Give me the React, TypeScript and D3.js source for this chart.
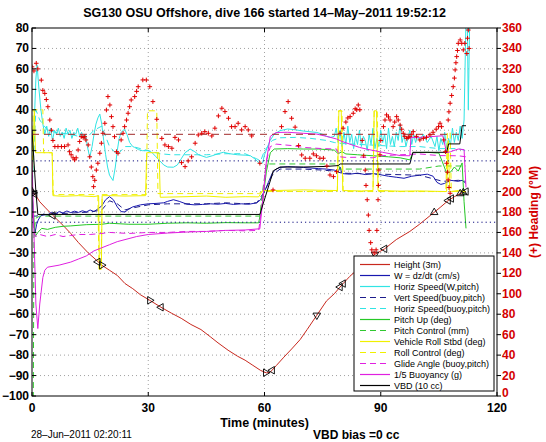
import React from 'react';
import * as d3 from 'd3';

type P = [number, number];

const titleText = 'SG130 OSU Offshore, dive 166 started 14\u2013May\u20132011 19:52:12';
const xLabel = 'Time (minutes)';
const yRightLabel = '(+) Heading (\u00B0M)';
const dateText = '28\u2013Jun\u20132011 02:20:11';
const vbdText = 'VBD bias =0 cc';

const xTicks = [0, 30, 60, 90, 120];
const yTicks = [-100, -90, -80, -70, -60, -50, -40, -30, -20, -10, 0, 10, 20, 30, 40, 50, 60, 70, 80];
const yRightTicks = [0, 20, 40, 60, 80, 100, 120, 140, 160, 180, 200, 220, 240, 260, 280, 300, 320, 340, 360];

const heightData: P[] = [[0,0],[1,-2],[2,-5],[3.5,-8],[5.4,-11.7],[8,-16.5],[10,-20.5],[12,-25],[14.5,-30],[16,-32.5],[18,-36],[20,-38.5],[22,-41],[24,-45],[26,-47.5],[28,-50.5],[30.4,-53.2],[33.3,-56.6],[36,-59.5],[38.5,-62],[41,-65],[43.6,-67.5],[46,-71],[48,-74],[50.6,-77.6],[53,-80.5],[55,-82.5],[57,-85],[59,-87.5],[60.5,-88.7],[61.5,-88.3],[63.1,-85],[65,-81],[67,-77],[69.2,-72.4],[71,-67.5],[73.5,-60.5],[76,-53.5],[78,-50],[79.5,-46.7],[80.3,-45],[82,-41.5],[83.8,-38.5],[86,-34.5],[88.5,-30.7],[91,-28],[94,-23.5],[97.5,-19.5],[100,-16],[103.5,-10.6],[105.5,-7.5],[107.4,-4.4],[109,-2.5],[110.5,-1],[112,0]];

const heightMarkers: [number, number, string][] = [[0,0,'u'],[0.3,-0.6,'r'],[0.7,-1.2,'l'],[5.4,-11.7,'l'],[17,-34.4,'l'],[18,-36,'r'],[30.4,-53.2,'r'],[33.3,-56.6,'l'],[60.3,-88.6,'r'],[62,-87.4,'l'],[73.5,-60.5,'d'],[79.5,-46.7,'l'],[80.3,-45,'l'],[88.5,-30.7,'d'],[91,-28,'l'],[103.8,-10.2,'u'],[107.4,-4.4,'l'],[108.2,-3.4,'l'],[110.5,-1,'u'],[111.3,-0.5,'u'],[112,0,'l']];

const wData: P[] = [[0,0],[0.4,-15],[0.8,-20],[1.2,-16],[1.6,-14],[2.2,-12],[3,-11],[4,-11.5],[5,-10.2],[6,-11],[7,-9.8],[8,-10.5],[9,-9.5],[10,-10.3],[11,-9.6],[12,-10.2],[13,-9.4],[14,-10],[15,-9],[16,-9.8],[17,-8.5],[18,-7],[19,-4],[20,-2.5],[21,-4],[22,-7.5],[23,-9.8],[24,-10],[25,-8.5],[26,-7.5],[27,-7],[28,-6.5],[30,-6],[32,-5.8],[34,-5.5],[35,-4.8],[36.5,-4],[38,-4.8],[40,-6.2],[42,-6.5],[44,-6.3],[46,-6],[48,-6.2],[50,-5.8],[52,-6.3],[54,-6],[56,-6.2],[58,-5.5],[59,-4],[60,0],[61,4.5],[62,9],[63,11],[64,11.8],[66,12.2],[68,12],[70,11.8],[72,11.5],[74,11.2],[76,11],[78,10.5],[79,9.5],[79.5,12],[80,8.8],[82,8.5],[84,9],[86,8.3],[88,8.8],[90,8.2],[92,7.5],[94,7],[96,6.5],[98,7.5],[100,8],[102,8.5],[103.5,7.5],[104.5,4.5],[105.5,3.5],[106.5,4],[108,5.5],[110,5],[111,5.5],[112,4]];

const horizSpeedData: P[] = [[0,0],[0.5,30],[1,55],[1.3,62],[1.8,50],[2.3,40],[2.8,33],[3.3,28],[3.8,32],[4.3,27],[4.8,31],[5.3,25],[5.8,30],[6.3,28],[6.8,31],[7.3,27],[7.8,29],[8.3,26],[8.8,31],[9.3,28],[9.8,30],[10.3,26],[10.8,29],[11.3,28],[11.8,31],[12.3,27],[12.8,29],[13.3,26],[13.8,28],[14.3,22],[14.9,16.7],[15.5,22],[16,28],[16.5,33],[17,36],[17.5,37.9],[18,33],[18.5,25],[19,18],[19.5,12],[20,8],[20.9,5.4],[21.5,12],[22,20],[22.5,26],[23,29],[23.9,30.6],[24.5,28],[25.2,24],[26,22],[26.5,21.6],[27.5,20.5],[28.5,20],[30,20],[31,19],[32,17],[33,15],[34,13],[35,12],[36.5,11.9],[37.5,13],[38.5,16],[39.5,19],[40.8,20.8],[42,19.5],[43,18],[45,16.7],[46.5,17.5],[48,18.5],[49.4,19.2],[51,18.5],[53,18],[55,17.8],[56.3,17.6],[57.5,16],[58.8,13.6],[59.5,14],[60,18],[61.4,24.9],[62.5,28],[64,29.8],[66,30.6],[68,30.2],[70,29.6],[72,29.2],[73.5,28.9],[75,28],[76,27],[77,26.5],[78,27],[78.5,31],[79,24],[79.5,30],[80,22],[80.5,29],[81,23],[81.5,32],[82,24],[82.5,28],[83,21],[83.5,27],[84,23],[84.5,30],[85,22],[85.5,27],[86,25],[86.5,20],[87,28],[87.5,23],[88,31],[88.5,21],[89,26],[89.5,22],[90,30],[90.5,24],[91,28],[91.5,21],[92,31],[92.5,23],[93,27],[93.5,22],[94,29],[94.5,25],[95,33],[95.5,24],[96,28],[96.5,22],[97,26],[97.5,30],[98,23],[98.5,28],[99,24],[99.5,27],[100,25],[101,28],[102,24],[103,27],[104,22],[104.5,27],[105,20],[105.5,26],[106,23],[106.5,29],[107,21],[107.5,26],[108,23],[108.5,31],[109,24],[109.5,29],[110,25],[110.5,32],[111,26],[111.5,35],[112,85],[112.3,90],[112.6,40],[113,90]];

const vertSpeedBuoyData: P[] = [[0,-12],[1,-12],[5,-11],[10,-10.5],[15,-10],[18,-9],[20,-4.5],[22,-6],[24,-9],[26,-8],[30,-6.5],[35,-6],[40,-6],[45,-6],[50,-5.5],[55,-6],[58,-5.5],[60,0],[62,8],[64,11],[70,11],[75,10.5],[78,10],[80,9],[90,8.5],[100,8],[104,6],[106,5],[110,5.5],[112,5]];

const horizSpeedBuoyData: P[] = [[0,0],[1,40],[2,35],[4,30],[6,29],[10,28],[14,26],[16,30],[18,32],[20,22],[22,18],[24,22],[26,22],[28,21],[30,20],[33,18.5],[36,18],[40,18],[45,18],[50,18.5],[55,18.5],[58,16],[59,15],[60,20],[62,25],[64,26.3],[68,26.5],[72,26],[76,25],[78,24],[80,23.5],[85,23],[90,22.5],[95,22],[100,22],[105,21],[110,21],[112,20]];

const pitchUpData: P[] = [[0,0],[0.4,-10],[0.8,-22],[1.5,-20],[2.5,-18],[4,-18.5],[6,-17.5],[8,-17],[10,-16.8],[14,-16.2],[18,-16],[20,-15.5],[25,-16],[30,-16],[35,-15.5],[40,-15.3],[45,-15.5],[50,-15.2],[55,-15.3],[58.5,-15.3],[59.5,-5],[60.5,10],[61.5,19],[62.5,20.8],[66,21],[70,20.8],[74,20.8],[78,20.3],[79,18.5],[80,19.5],[81,18.4],[84,18],[88,17.5],[92,17],[95,16.5],[97.5,15.5],[98.3,19],[102,19.2],[105,18.8],[106,14],[107,9],[108,9.5],[109,12],[110,10],[111,14],[111.5,-5],[112,-18]];

const pitchControlData: P[] = [[0,-120],[0.3,-120],[0.5,-20],[1,-13],[2,-12],[5,-12],[30,-12],[58.8,-12],[59.5,0],[60.5,13.5],[79,13.5],[79.5,11],[100,11],[105,12.5],[112,12.5]];

const rollData: P[] = [[0,0],[0.3,20],[0.6,39.5],[0.9,19],[5.2,19],[5.4,-2],[8,-2.3],[12,-2],[16,-2.5],[17.2,-2],[17.4,-38],[17.9,-38],[18.1,-2],[20,-2],[24,-2.2],[29.3,-2],[29.6,19],[32.8,19],[33.1,-2.8],[40,-2.5],[45,-2.2],[50,-2.8],[55,-2.5],[58.5,-2.6],[59.5,0.5],[62,0.5],[70,0.8],[78.8,0.5],[79.2,39.5],[79.8,39.5],[80.2,0.5],[85,0.3],[88,0.5],[88.3,39.5],[88.9,39.5],[89.3,0.5],[95,0.2],[100,0.3],[107,0],[107.4,25],[107.8,0],[110,0.5],[112,0]];

const rollControlData: P[] = [[0,0],[0.3,40],[2.8,40],[3,19],[5.2,19],[5.5,-1.5],[17,-1.5],[17.3,-38],[17.8,-38],[18.1,-1.5],[29.5,-1.5],[29.8,39.5],[32.2,39.5],[32.5,-1],[58.5,-1],[59.5,0],[78.8,0],[79.1,39.5],[80,39.5],[80.3,0],[88,0],[88.3,39.5],[89.1,39.5],[89.4,0],[106.8,0],[107.2,29],[107.9,29],[108.2,0],[112,0]];

const glideAngleData: P[] = [[0,-10],[0.5,-20],[1,-22],[2,-21],[4,-22],[6,-21],[8,-22],[10,-21.5],[12,-21],[15,-21],[18,-20.5],[20,-20],[25,-20.5],[30,-20],[35,-20],[40,-19.5],[45,-19.5],[50,-19],[55,-19.2],[58.5,-19],[59.5,-5],[60.5,15],[61.5,22],[63,23.2],[67,22.5],[70,21.6],[75,21],[78.6,20.8],[79.5,17],[81,16.7],[85,16.8],[88,16.5],[90,17.5],[95,18],[100,18.4],[105,17.6],[110,17.5],[112,17]];

const buoyancyData: P[] = [[0,15],[0.5,-20],[1,-55],[1.5,-67],[2,-55],[2.8,-42],[3.3,-38.5],[4,-37],[7,-36],[10,-34.5],[12,-33],[14,-31.5],[16,-29],[18,-27.5],[20,-26],[22,-24.5],[24,-23.5],[27,-22],[30,-21],[35,-20.3],[40,-19.8],[45,-19.5],[50,-19],[55,-18.8],[58.8,-18.2],[59.5,-5],[60.5,15],[61.5,27],[63,28.9],[66,29],[70,28.5],[73.5,28.1],[76,27],[78.6,25.7],[80,24.5],[84.5,21.6],[87,20.5],[90.5,19.2],[93,18.3],[95,17.6],[97.5,17.5],[97.8,26.5],[100,26.5],[104,27],[106,27.3],[107,19],[108,19.5],[110,20.8],[111.5,20.5],[112,2]];

const vbdData: P[] = [[0,30],[0.5,15],[1,0],[1.5,-11.2],[58.8,-11.2],[62.3,10.2],[64,12],[70,12],[76,12.3],[79,12.7],[79.5,13.5],[97.5,13.5],[98.3,19.2],[107,19.2],[107.5,23.3],[110.4,23.3],[111,32.2],[112,32.2]];

const wTargets = [15, -15];
const targetHeading = 256;
const headingSpan: P = [0, 112];

const headingData: P[] = [[0,322],[0.5,318],[1.1,325.5],[1.5,320],[2.4,309],[2.8,299],[3.3,296],[3.7,290],[4.1,283],[4.6,270],[5.0,260],[5.4,250],[5.9,244],[6.7,244],[7.6,244],[8.4,244],[9.3,245.6],[9.7,239],[10.1,236],[10.6,233],[11,231],[11.4,233],[11.9,240.7],[12.3,249],[12.7,253.7],[13.2,253],[13.6,253.7],[13.9,250.5],[14.5,245.6],[14.9,234],[15.3,224],[15.7,214.6],[15.9,204.8],[16.2,211],[16.6,221],[17,227.7],[17.5,237.5],[17.9,247.3],[18.3,257],[18.8,266.8],[19.2,279.8],[19.6,292.9],[20.1,284.7],[20.5,273.3],[20.9,263.5],[21.3,253.7],[21.8,239],[22.2,237.5],[23,250.5],[23.5,257],[23.9,263.5],[24.4,270],[24.8,276.6],[25.2,283],[25.6,289.6],[26.5,292.9],[27,298],[27.4,302.6],[28.6,309.2],[29.5,309.2],[30.4,302.6],[31.2,288],[32.2,270.7],[33.5,252],[34.3,245.6],[35.2,244],[36.1,242.4],[36.9,253],[37.8,250.5],[38.6,228.3],[39.5,224.4],[40.3,230],[41.2,234],[42.1,247.3],[42.9,255.4],[43.8,257],[44.6,258.6],[45.5,257],[46.4,254.4],[47.2,262],[48.1,274],[49,281.5],[49.8,278.2],[50.7,271.7],[51.5,263.5],[52.4,263.5],[53.2,266.8],[54.1,260.3],[55,263.5],[55.8,260.3],[56.7,254.4],[58.8,227.7],[62.2,201.6],[64.4,263.5],[65.3,278.2],[66.1,288],[67,271.7],[67.9,263],[68.8,245],[69.6,235.8],[70.5,232.6],[71.7,232.6],[72.6,236.8],[73.4,235],[74.3,232.6],[75.2,232.6],[76.1,225],[76.9,216.2],[77.8,214.6],[78.6,219.5],[79.5,257],[80.3,262],[81,268],[81.5,272],[82.1,273.3],[82.9,276.6],[83.4,281],[83.8,280],[84.2,284.7],[84.6,280],[85.2,250],[85.6,235],[86,221],[86.2,206],[86.5,192],[86.8,177],[87,162],[87.4,150],[87.7,143],[88.3,140],[88.8,143],[89,162],[89.3,192],[89.4,206],[89.5,221],[89.8,236],[90,250],[90.7,263.5],[91.1,270],[91.5,275],[92,273],[92.4,270],[93.2,263.5],[93.6,268],[94.1,273.3],[94.5,270],[95,265],[95.4,261],[95.8,257],[96.2,254],[96.7,252],[97.1,253],[97.5,253.7],[98,256],[98.4,258.6],[99.2,254],[100.1,250.5],[101,252],[101.8,253],[102.7,255.4],[103.5,258],[104.3,261],[104.9,263.5],[105.3,266.8],[105.7,263.5],[106.3,250.5],[106.7,239],[107,227.7],[107.2,219],[107.4,211.4],[107.6,204],[107.9,198.3],[107.4,270],[107.6,278],[107.9,286.4],[108.3,294],[108.7,302.6],[109,311],[109.2,319],[109.4,326],[109.6,332],[109.8,338],[110,345],[110.5,348.3],[110.9,345],[111.3,338.6],[111.7,345],[112.2,335],[112.4,350],[112.6,358],[112.8,340]];

const seriesLabels = ['Height (3m)', 'W = dz/dt (cm/s)', 'Horiz Speed(W,pitch)', 'Vert Speed(buoy,pitch)', 'Horiz Speed(buoy,pitch)', 'Pitch Up (deg)', 'Pitch Control (mm)', 'Vehicle Roll Stbd (deg)', 'Roll Control (deg)', 'Glide Angle (buoy,pitch)', '1/5 Buoyancy (g)', 'VBD (10 cc)'];

const seriesStyle = [
  { color: '#c8281e', dash: '' },
  { color: '#1818b0', dash: '' },
  { color: '#30e4e4', dash: '' },
  { color: '#1c1c8c', dash: '6,4' },
  { color: '#30e4e4', dash: '6,4' },
  { color: '#26c826', dash: '' },
  { color: '#30c830', dash: '6,4' },
  { color: '#f0f000', dash: '' },
  { color: '#f0f000', dash: '6,4' },
  { color: '#e020e0', dash: '6,4' },
  { color: '#e020e0', dash: '' },
  { color: '#000000', dash: '' },
];

const seriesData = [heightData, wData, horizSpeedData, vertSpeedBuoyData, horizSpeedBuoyData, pitchUpData, pitchControlData, rollData, rollControlData, glideAngleData, buoyancyData, vbdData];

const L = 32, R = 497, T = 28, B = 396;
const x = d3.scaleLinear().domain([0, 120]).range([L, R]);
const y = d3.scaleLinear().domain([-100, 80]).range([B, T]);
const yR = d3.scaleLinear().domain([0, 360]).range([B, T]);
const FONT = "'Liberation Sans', Arial, Helvetica, sans-serif";
const RED = '#d40000';

export default function App() {
  const line = d3.line<P>().x(d => x(d[0])).y(d => y(d[1]));
  const tri = d3.symbol().type(d3.symbolTriangle).size(24)() as string;
  const rot: Record<string, number> = { u: 0, r: 90, d: 180, l: 270 };
  const legendX = 354, legendY = 256, legendW = 140, legendH = 135;
  return (
    <svg width={546} height={442} style={{ position: 'absolute', left: 0, top: 0 }} fontFamily={FONT}>
      <defs>
        <clipPath id="plotclip"><rect x={L} y={T} width={R - L} height={B - T} /></clipPath>
      </defs>
      <rect x={0} y={0} width={546} height={442} fill="#fff" />
      <rect x={L} y={T} width={R - L} height={B - T} fill="#fff" />
      <g stroke="#8a8a8a" strokeWidth={0.8} strokeDasharray="1,3">
        {yTicks.filter(v => v > -100 && v < 80).map(v => (
          <line key={'gy' + v} x1={L} x2={R} y1={y(v)} y2={y(v)} />
        ))}
        {xTicks.filter(v => v > 0 && v < 120).map(v => (
          <line key={'gx' + v} x1={x(v)} x2={x(v)} y1={T} y2={B} />
        ))}
      </g>
      <g clipPath="url(#plotclip)" fill="none">
        {seriesData.map((d, i) => (
          <path key={'s' + i} d={line(d) as string} stroke={seriesStyle[i].color} strokeWidth={1} strokeDasharray={seriesStyle[i].dash || undefined} />
        ))}
        {heightMarkers.map((m, i) => (
          <path key={'m' + i} d={tri} transform={`translate(${x(m[0])},${y(m[1])}) rotate(${rot[m[2]]})`} stroke="#000" strokeWidth={0.9} fill="none" />
        ))}
        {wTargets.map(v => (
          <line key={'wt' + v} x1={L} x2={R} y1={y(v)} y2={y(v)} stroke="#101080" strokeWidth={1} strokeDasharray="1.2,3" />
        ))}
        <line x1={x(headingSpan[0])} x2={x(headingSpan[1])} y1={yR(targetHeading)} y2={yR(targetHeading)} stroke="#a02828" strokeWidth={1} strokeDasharray="7,5" />
        {headingData.map((d, i) => (
          <path key={'h' + i} d="M-2.3,0H2.3M0,-2.3V2.3" transform={`translate(${x(d[0])},${yR(d[1])})`} stroke="#e00000" strokeWidth={1} />
        ))}
      </g>
      <rect x={L} y={T} width={R - L} height={B - T} fill="none" stroke="#000" strokeWidth={1} />
      <g stroke="#000" strokeWidth={1}>
        {yTicks.map(v => (
          <line key={'ty' + v} x1={L} x2={L + 4} y1={y(v)} y2={y(v)} />
        ))}
        {xTicks.map(v => (
          <g key={'tx' + v}>
            <line x1={x(v)} x2={x(v)} y1={B} y2={B - 4} />
            <line x1={x(v)} x2={x(v)} y1={T} y2={T + 4} />
          </g>
        ))}
        {yRightTicks.map(v => (
          <line key={'tr' + v} x1={R} x2={R + 4} y1={yR(v)} y2={yR(v)} />
        ))}
      </g>
      <g fontSize={12} fontWeight="bold" fill="#000">
        {yTicks.map(v => (
          <text key={'ly' + v} x={L - 3} y={y(v) + 4} textAnchor="end">{v < 0 ? '\u2212' + Math.abs(v) : v}</text>
        ))}
        {xTicks.map(v => (
          <text key={'lx' + v} x={x(v)} y={412} textAnchor="middle">{v}</text>
        ))}
      </g>
      <g fontSize={12} fontWeight="bold" fill={RED}>
        {yRightTicks.map(v => (
          <text key={'lr' + v} x={R + 5} y={yR(v) + (v === 0 ? 1 : 4)} textAnchor="start">{v}</text>
        ))}
        <text transform={`translate(538,${(T + B) / 2}) rotate(-90)`} textAnchor="middle">{yRightLabel}</text>
      </g>
      <text x={(L + R) / 2} y={17} textAnchor="middle" fontSize={12.5} fontWeight="bold">{titleText}</text>
      <text x={(L + R) / 2} y={427} textAnchor="middle" fontSize={12.5} fontWeight="bold">{xLabel}</text>
      <text x={31} y={438} fontSize={10}>{dateText}</text>
      <text x={313} y={439} fontSize={12} fontWeight="bold">{vbdText}</text>
      <g>
        <rect x={legendX} y={legendY} width={legendW} height={legendH} fill="#fff" stroke="#000" strokeWidth={1} />
        {seriesLabels.map((lab, i) => {
          const ly = legendY + 8.5 + i * 11;
          return (
            <g key={'lg' + i}>
              <line x1={legendX + 6} x2={legendX + 36} y1={ly} y2={ly} stroke={seriesStyle[i].color} strokeWidth={1.2} strokeDasharray={seriesStyle[i].dash || undefined} />
              <text x={legendX + 40} y={ly + 3} fontSize={9} fill="#000">{lab}</text>
            </g>
          );
        })}
      </g>
    </svg>
  );
}
